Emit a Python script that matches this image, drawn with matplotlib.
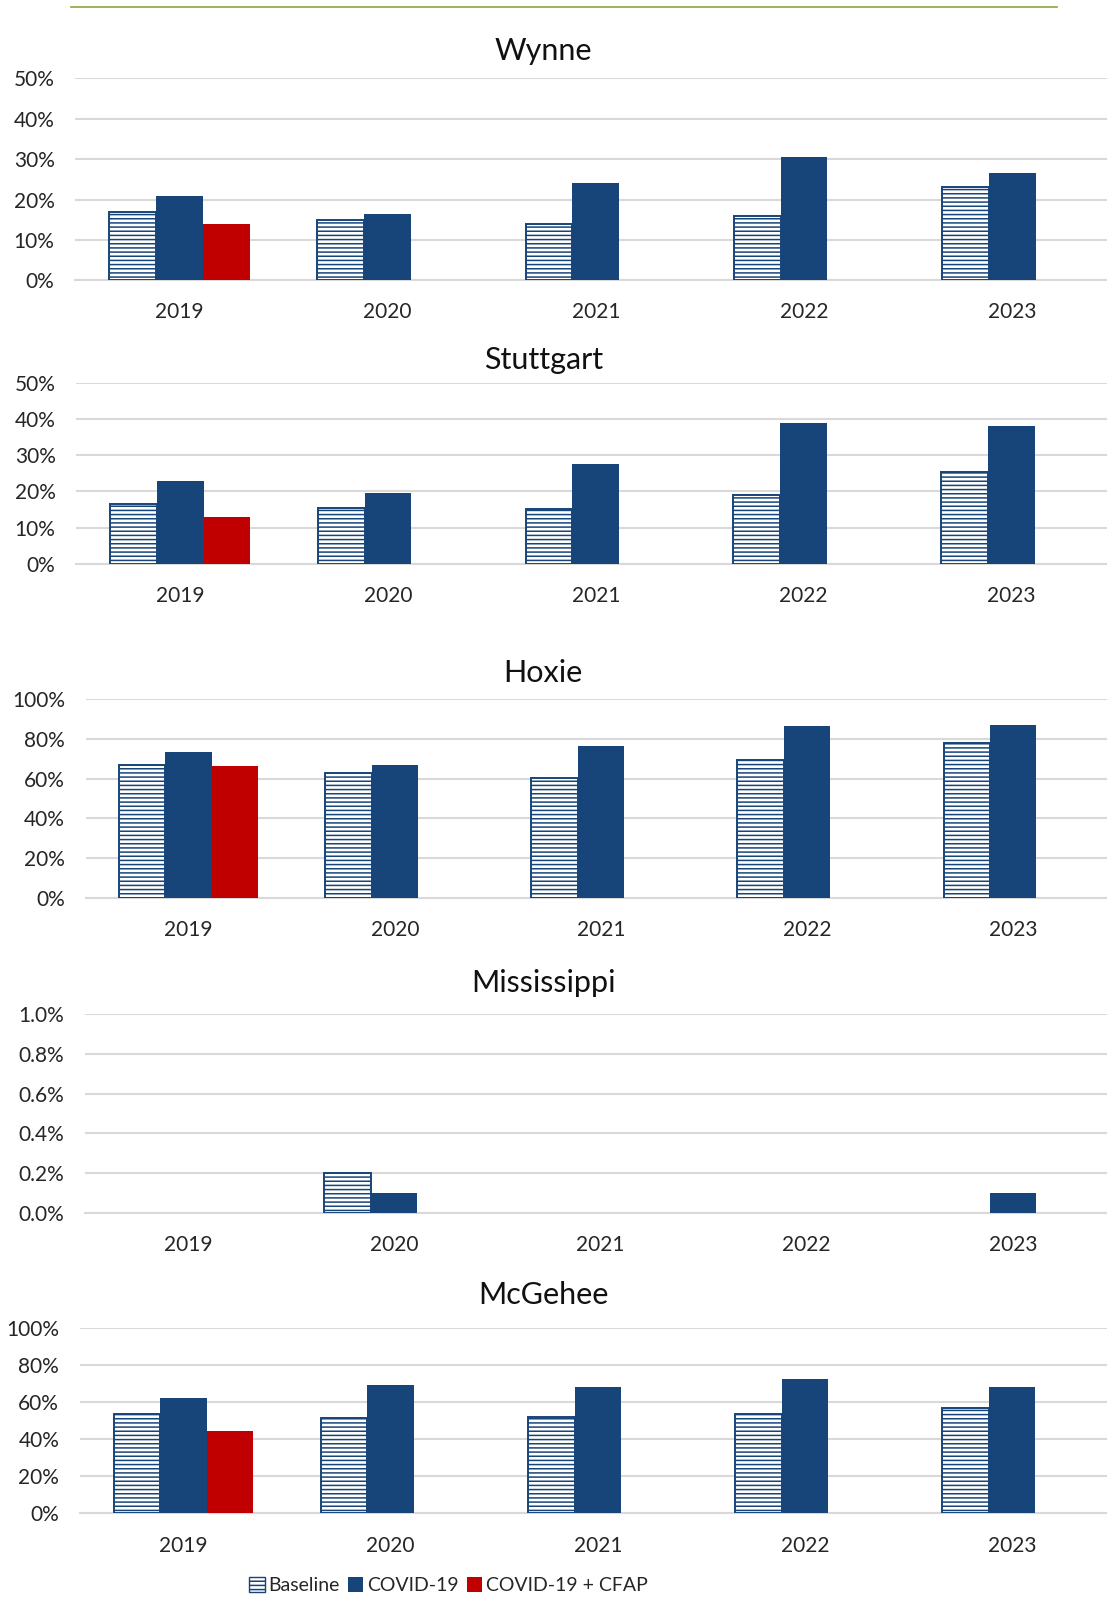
import matplotlib.pyplot as plt
import numpy as np
from matplotlib.lines import Line2D
from matplotlib.ticker import PercentFormatter
from matplotlib.patches import Patch

plt.rcParams['font.family'] = ['Lato', 'DejaVu Sans']
plt.rcParams['hatch.linewidth'] = 1.1

years = ['2019', '2020', '2021', '2022', '2023']
nan = np.nan

# values in percent, nan = no bar
wynne_base = [17, 15, 14, 16, 23]
wynne_covid = [21, 16.5, 24, 30.5, 26.5]
wynne_cfap = [14, nan, nan, nan, nan]

stutt_base = [16.5, 15.5, 15, 19, 25.5]
stutt_covid = [23, 19.5, 27.7, 39, 38]
stutt_cfap = [13, nan, nan, nan, nan]

hoxie_base = [66.7, 63, 60.5, 69.5, 78]
hoxie_covid = [73.5, 67, 76.5, 86.5, 87]
hoxie_cfap = [66.5, nan, nan, nan, nan]

miss_base = [nan, 0.2, nan, nan, nan]
miss_covid = [nan, 0.1, nan, nan, 0.1]
miss_cfap = [nan, nan, nan, nan, nan]

mcg_base = [53.5, 51.5, 52, 53.5, 57]
mcg_covid = [62, 69.5, 68, 72.5, 68]
mcg_cfap = [44.5, nan, nan, nan, nan]

blue = '#17457a'
red = '#c00000'
grid = '#d9d9d9'

W, H = 1086, 1568
fig = plt.figure(figsize=(11.07, 15.98), dpi=100)

# (title, base, covid, cfap, ymax, ystep, decimals, left, right, bottom, top, title_y)
panels = [
    ('Wynne', wynne_base, wynne_covid, wynne_cfap, 50, 10, 0, 74, 1095, 275, 77, 50),
    ('Stuttgart', stutt_base, stutt_covid, stutt_cfap, 50, 10, 0, 75, 1094, 553, 376, 353),
    ('Hoxie', hoxie_base, hoxie_covid, hoxie_cfap, 100, 20, 0, 84, 1095, 881, 686, 660),
    ('Mississippi', miss_base, miss_covid, miss_cfap, 1.0, 0.2, 1, 83, 1095, 1190, 995, 965),
    ('McGehee', mcg_base, mcg_covid, mcg_cfap, 100, 20, 0, 78.5, 1094.5, 1485, 1303, 1271),
]

x = np.arange(len(years))
bw = 0.225

for name, base, covid, cfap, ymax, ystep, dec, l, r, b, t, ty in panels:
    ax = fig.add_axes([l / W, 1 - b / H, (r - l) / W, (b - t) / H])
    ax.bar(x - bw, base, bw, color='white', edgecolor=blue, hatch='----', linewidth=1.4, zorder=3)
    ax.bar(x, covid, bw, color=blue, zorder=3)
    ax.bar(x + bw, cfap, bw, color=red, zorder=3)
    ax.set_xlim(-0.5, len(years) - 0.5)
    ax.set_ylim(0, ymax)
    ax.set_yticks(np.arange(0, ymax + ystep / 2, ystep))
    ax.yaxis.set_major_formatter(PercentFormatter(decimals=dec))
    ax.set_xticks(x)
    ax.set_xticklabels(years)
    ax.grid(axis='y', color=grid, linewidth=1.5, zorder=0)
    for s in ['top', 'right', 'left']:
        ax.spines[s].set_visible(False)
    ax.spines['bottom'].set_color(grid)
    ax.spines['bottom'].set_linewidth(1.5)
    ax.tick_params(length=0, labelsize=15, colors='#262626')
    ax.tick_params(axis='x', pad=16)
    ax.tick_params(axis='y', pad=15)
    fig.text(533 / W, 1 - ty / H, name, ha='center', va='center', fontsize=22, color='#111111')

fig.add_artist(Line2D([70 / W, 1037 / W], [1 - 7 / H, 1 - 7 / H], color='#8aa43f', linewidth=1.2))

handles = [Patch(facecolor='white', edgecolor=blue, hatch='----', label='Baseline'),
           Patch(facecolor=blue, label='COVID-19'),
           Patch(facecolor=red, label='COVID-19 + CFAP')]
fig.legend(handles=handles, loc='center', bbox_to_anchor=(440 / W, 1 - 1556 / H), ncol=3,
           frameon=False, fontsize=14, handlelength=0.8, handleheight=0.8,
           handletextpad=0.2, columnspacing=0.4, labelcolor='#262626')

fig.savefig('out.png', dpi=100)
